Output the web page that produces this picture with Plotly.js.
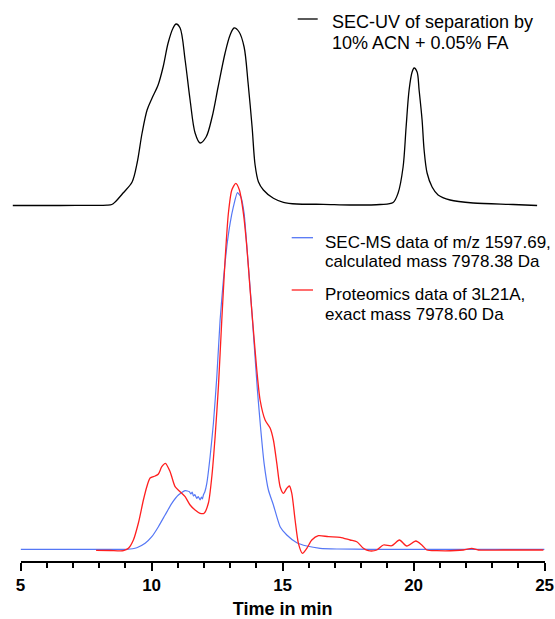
<!DOCTYPE html>
<html>
<head>
<meta charset="utf-8">
<script src="https://cdn.plot.ly/plotly-3.0.1.min.js"></script>
<style>html,body{margin:0;padding:0;background:#fff;}#chart{width:555px;height:619px;}</style>
</head>
<body>
<div id="chart"></div>
<script>
// SEC-UV trace (top), time in min and signal (a.u.)
const uvTime = [4.702, 6.508, 8.034, 8.30, 8.481, 8.607, 8.912, 9.256, 9.447, 9.637, 9.828, 10.019, 10.248, 10.439, 10.630, 10.821, 10.935, 11.088, 11.279, 11.469, 11.660, 11.851, 12.080, 12.309, 12.538, 12.805, 12.996, 13.149, 13.340, 13.531, 13.683, 13.836, 13.950, 14.076, 14.267, 14.649, 15.031, 15.542, 16.557, 17.576, 18.721, 19.218, 19.408, 19.599, 19.714, 19.828, 19.943, 20.019, 20.134, 20.210, 20.324, 20.401, 20.515, 20.706, 20.935, 21.393, 22.271, 23.798, 24.714];
const uvSignal = [0, 0, 0.2, 0.3, 1.0, 3.5, 12.5, 23.5, 42.5, 72.5, 95.5, 107.5, 120.5, 138.5, 162.5, 177.5, 181.5, 177.5, 145.5, 105.5, 72.5, 62.5, 68.5, 88.5, 118.5, 152.5, 170.5, 177.5, 173.5, 158.5, 122.5, 78.5, 40.5, 23.8, 15.5, 7.2, 3.2, 1.5, 1.2, 0.5, 1.0, 3.0, 12.5, 38.5, 78.5, 115.5, 133.5, 137.5, 133.5, 115.5, 85.5, 55.5, 32.5, 18.5, 10.5, 5.5, 2.5, 1.0, 0];

// SEC-MS extracted ion trace (blue)
const msTime = [5.000, 7.653, 9.053, 9.435, 9.752, 10.008, 10.260, 10.515, 10.771, 11.023, 11.279, 11.443, 11.50, 11.55, 11.595, 11.65, 11.725, 11.78, 11.851, 11.90, 11.94, 11.977, 12.03, 12.107, 12.233, 12.359, 12.489, 12.615, 12.740, 12.870, 12.996, 13.122, 13.275, 13.405, 13.531, 13.656, 13.786, 13.912, 14.038, 14.168, 14.294, 14.458, 14.649, 14.905, 15.160, 15.542, 15.924, 16.431, 17.069, 18.340, 25.000];
const msSignal = [0.7, 0.7, 0.7, 2.3, 6.7, 13.3, 23.3, 35, 46.7, 55, 59.3, 58.3, 56, 58, 54, 55.5, 51.7, 53.5, 50, 53, 51, 55, 58, 66.7, 93.3, 126.7, 173.3, 230, 270, 303.3, 326.7, 343.3, 357.3, 353.3, 336.7, 296.7, 253.3, 206.7, 160, 120, 86.7, 60, 45, 23.3, 15, 7.3, 4, 1.7, 1, 0.7, 0.7];

// Proteomics trace (red)
const protTime = [7.882, 8.416, 8.924, 9.115, 9.305, 9.496, 9.687, 9.817, 9.943, 10.134, 10.260, 10.389, 10.527, 10.706, 10.897, 11.088, 11.279, 11.469, 11.660, 11.851, 12.004, 12.168, 12.298, 12.424, 12.550, 12.679, 12.805, 12.931, 13.061, 13.214, 13.351, 13.504, 13.634, 13.760, 13.885, 14.015, 14.141, 14.332, 14.523, 14.649, 14.779, 14.905, 15.031, 15.160, 15.260, 15.351, 15.477, 15.603, 15.756, 15.924, 16.115, 16.366, 16.748, 17.195, 17.576, 17.832, 18.084, 18.275, 18.595, 18.847, 19.168, 19.458, 19.740, 20.084, 20.313, 20.504, 20.885, 21.901, 22.221, 22.473, 23.427, 24.954];
const protSignal = [-0.3, -0.5, -0.7, 1.7, 10, 27, 50, 63.3, 72, 74, 76, 83.3, 86.7, 78.3, 63.3, 58.3, 53.3, 45, 40, 36.7, 36.7, 47, 73.3, 113.3, 163.3, 230, 290, 336.7, 360, 366.7, 360, 336.7, 303.3, 260, 220, 180, 150, 130, 122, 110, 86.7, 63.3, 56.7, 61.7, 64, 56.7, 30, 6.7, -3.3, 1.7, 10, 14.3, 13.3, 12.7, 10, 8.3, 1.7, -0.7, 0, 5, 4.3, 10, 4, 9, 5, 0, -0.7, 0, 1.7, 0, 0, 0];

const xTicks = [5, 10, 15, 20, 25];
const uvLegendLines = ['SEC-UV of separation by', '10% ACN + 0.05% FA'];
const msLegendLines = ['SEC-MS data of m/z 1597.69,', 'calculated mass 7978.38 Da'];
const protLegendLines = ['Proteomics data of 3L21A,', 'exact mass 7978.60 Da'];

const FONT = 'Liberation Sans, Arial, Helvetica, sans-serif';
const UV_COLOR = '#000000', MS_COLOR = '#5577f5', PROT_COLOR = '#ff1f1f';

// page geometry (px) -> paper fractions
const W = 555, H = 619, ML = 8, MR = 8, MT = 10, MB = 58;
const PW = W - ML - MR, PH = H - MT - MB;
const px2x = p => (p - ML) / PW;
const px2y = p => (H - MB - p) / PH;

const traces = [
  {x: uvTime, y: uvSignal, xaxis: 'x2', yaxis: 'y2', type: 'scatter', mode: 'lines',
   line: {color: UV_COLOR, width: 1.3, shape: 'spline', smoothing: 0.9},
   name: uvLegendLines.join(' '), showlegend: false},
  {x: msTime, y: msSignal, xaxis: 'x', yaxis: 'y', type: 'scatter', mode: 'lines',
   line: {color: MS_COLOR, width: 1.2, shape: 'spline', smoothing: 0.5},
   name: msLegendLines.join(' '), showlegend: false},
  {x: protTime, y: protSignal, xaxis: 'x', yaxis: 'y', type: 'scatter', mode: 'lines',
   line: {color: PROT_COLOR, width: 1.3, shape: 'spline', smoothing: 0.7},
   name: protLegendLines.join(' '), showlegend: false}
];

// legend keys and texts
const keys = [
  {color: UV_COLOR, x0: 297.7, x1: 317.7, y: 19, tx: 329.5, ty: [21.5, 42.5], size: 18, lines: uvLegendLines},
  {color: MS_COLOR, x0: 291.7, x1: 313.0, y: 237.7, tx: 323.3, ty: [242, 261.5], size: 17, lines: msLegendLines},
  {color: PROT_COLOR, x0: 291.7, x1: 313.0, y: 290, tx: 323.3, ty: [295, 314.5], size: 17, lines: protLegendLines}
];
const shapes = keys.map(k => ({
  type: 'line', xref: 'paper', yref: 'paper',
  x0: px2x(k.x0), x1: px2x(k.x1), y0: px2y(k.y), y1: px2y(k.y),
  line: {color: k.color, width: 1.3}
}));
const annotations = [];
keys.forEach(k => k.lines.forEach((t, i) => annotations.push({
  text: t, xref: 'paper', yref: 'paper', x: px2x(k.tx), y: px2y(k.ty[i]),
  xanchor: 'left', yanchor: 'middle', showarrow: false, align: 'left',
  font: {family: FONT, size: k.size, color: '#000'}
})));

const layout = {
  width: W, height: H,
  margin: {l: ML, r: MR, t: MT, b: MB},
  paper_bgcolor: '#ffffff',
  plot_bgcolor: 'rgba(0,0,0,0)',
  font: {family: FONT, color: '#000'},
  showlegend: false,
  xaxis: {
    domain: [px2x(20.6), px2x(544.6)], range: [5, 25], anchor: 'y',
    tickvals: xTicks, ticktext: xTicks.map(String),
    showline: true, linecolor: '#000', linewidth: 2,
    ticks: 'outside', ticklen: 8, tickwidth: 2, tickcolor: '#000',
    minor: {dtick: 1, ticks: 'outside', ticklen: 5, tickwidth: 2, tickcolor: '#000', showgrid: false},
    showgrid: false, zeroline: false, automargin: false,
    tickfont: {family: FONT, size: 17, color: '#000', weight: 'bold'},
    title: {text: 'Time in min', font: {family: FONT, size: 18, color: '#000', weight: 'bold'}, standoff: 8}
  },
  yaxis: {domain: [0, 1], range: [-11, 540], visible: false, anchor: 'x'},
  xaxis2: {domain: [0, 1], range: [5 + (ML - 20.6) / 26.2, 5 + (W - MR - 20.6) / 26.2], visible: false, anchor: 'y2'},
  yaxis2: {domain: [0, 1], range: [-355.5, 195.5], visible: false, anchor: 'x2'},
  shapes: shapes,
  annotations: annotations
};

Plotly.newPlot('chart', traces, layout, {displayModeBar: false, staticPlot: true});
</script>
</body>
</html>
